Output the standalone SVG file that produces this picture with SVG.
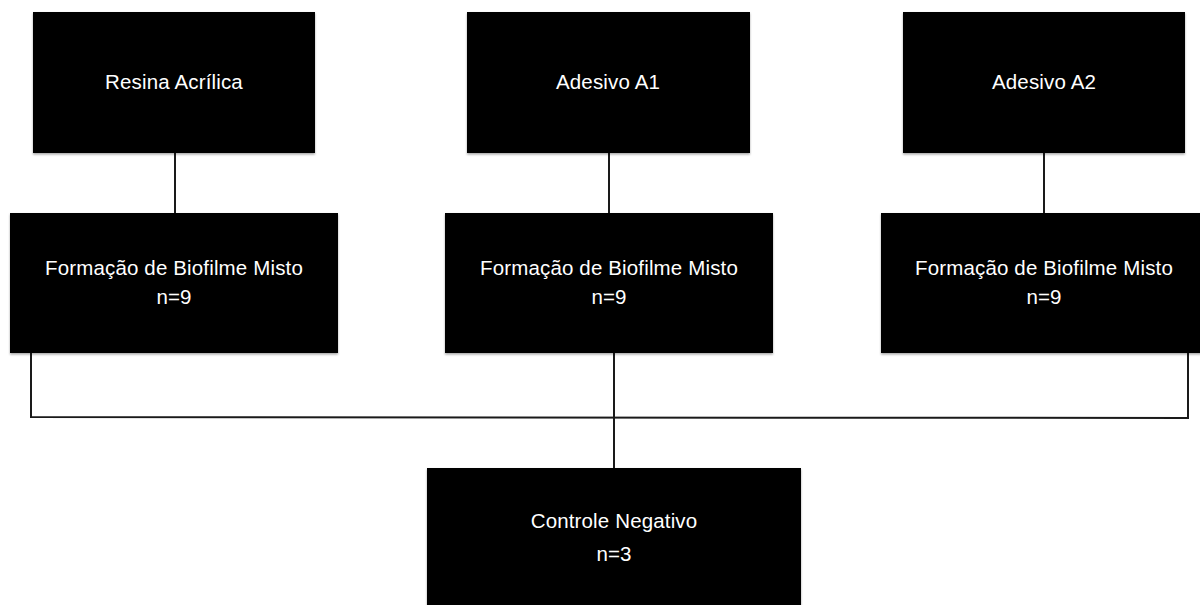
<svg xmlns="http://www.w3.org/2000/svg" width="1200" height="605" viewBox="0 0 1200 605">
<defs>
<filter id="sh" x="-5%" y="-5%" width="110%" height="115%">
<feDropShadow dx="0" dy="1.5" stdDeviation="1.2" flood-color="#000" flood-opacity="0.35"/>
</filter>
</defs>
<style>
.box{fill:#000;filter:url(#sh)}
.t{font-family:"Liberation Sans",Arial,sans-serif;font-size:20.5px;letter-spacing:0.15px;fill:#fff;text-anchor:middle}
.c{stroke:#1a1a1a;stroke-width:2;fill:none}
</style>
<rect width="1200" height="605" fill="#fff"/>
<g id="connectors">
<line class="c" x1="175" y1="153" x2="175" y2="213"/>
<line class="c" x1="609" y1="153" x2="609" y2="213"/>
<line class="c" x1="1044" y1="153" x2="1044" y2="213"/>
<polyline class="c" points="31,353 31,417 1188,418 1188,353"/>
<line class="c" x1="614" y1="353" x2="614" y2="468"/>
</g>
<g id="n1"><rect class="box" x="33" y="12" width="282" height="141"/><text class="t" x="174" y="89">Resina Acrílica</text></g>
<g id="n2"><rect class="box" x="467" y="12" width="283" height="141"/><text class="t" x="608" y="89">Adesivo A1</text></g>
<g id="n3"><rect class="box" x="903" y="12" width="282" height="141"/><text class="t" x="1044" y="89">Adesivo A2</text></g>
<g id="n4"><rect class="box" x="10" y="213" width="328" height="140"/><text class="t" x="174" y="275">Formação de Biofilme Misto</text><text class="t" x="174" y="304">n=9</text></g>
<g id="n5"><rect class="box" x="445" y="213" width="328" height="140"/><text class="t" x="609" y="275">Formação de Biofilme Misto</text><text class="t" x="609" y="304">n=9</text></g>
<g id="n6"><rect class="box" x="881" y="213" width="326" height="140"/><text class="t" x="1044" y="275">Formação de Biofilme Misto</text><text class="t" x="1044" y="304">n=9</text></g>
<g id="n7"><rect class="box" x="427" y="468" width="374" height="145"/><text class="t" x="614" y="528">Controle Negativo</text><text class="t" x="614" y="561">n=3</text></g>
</svg>
